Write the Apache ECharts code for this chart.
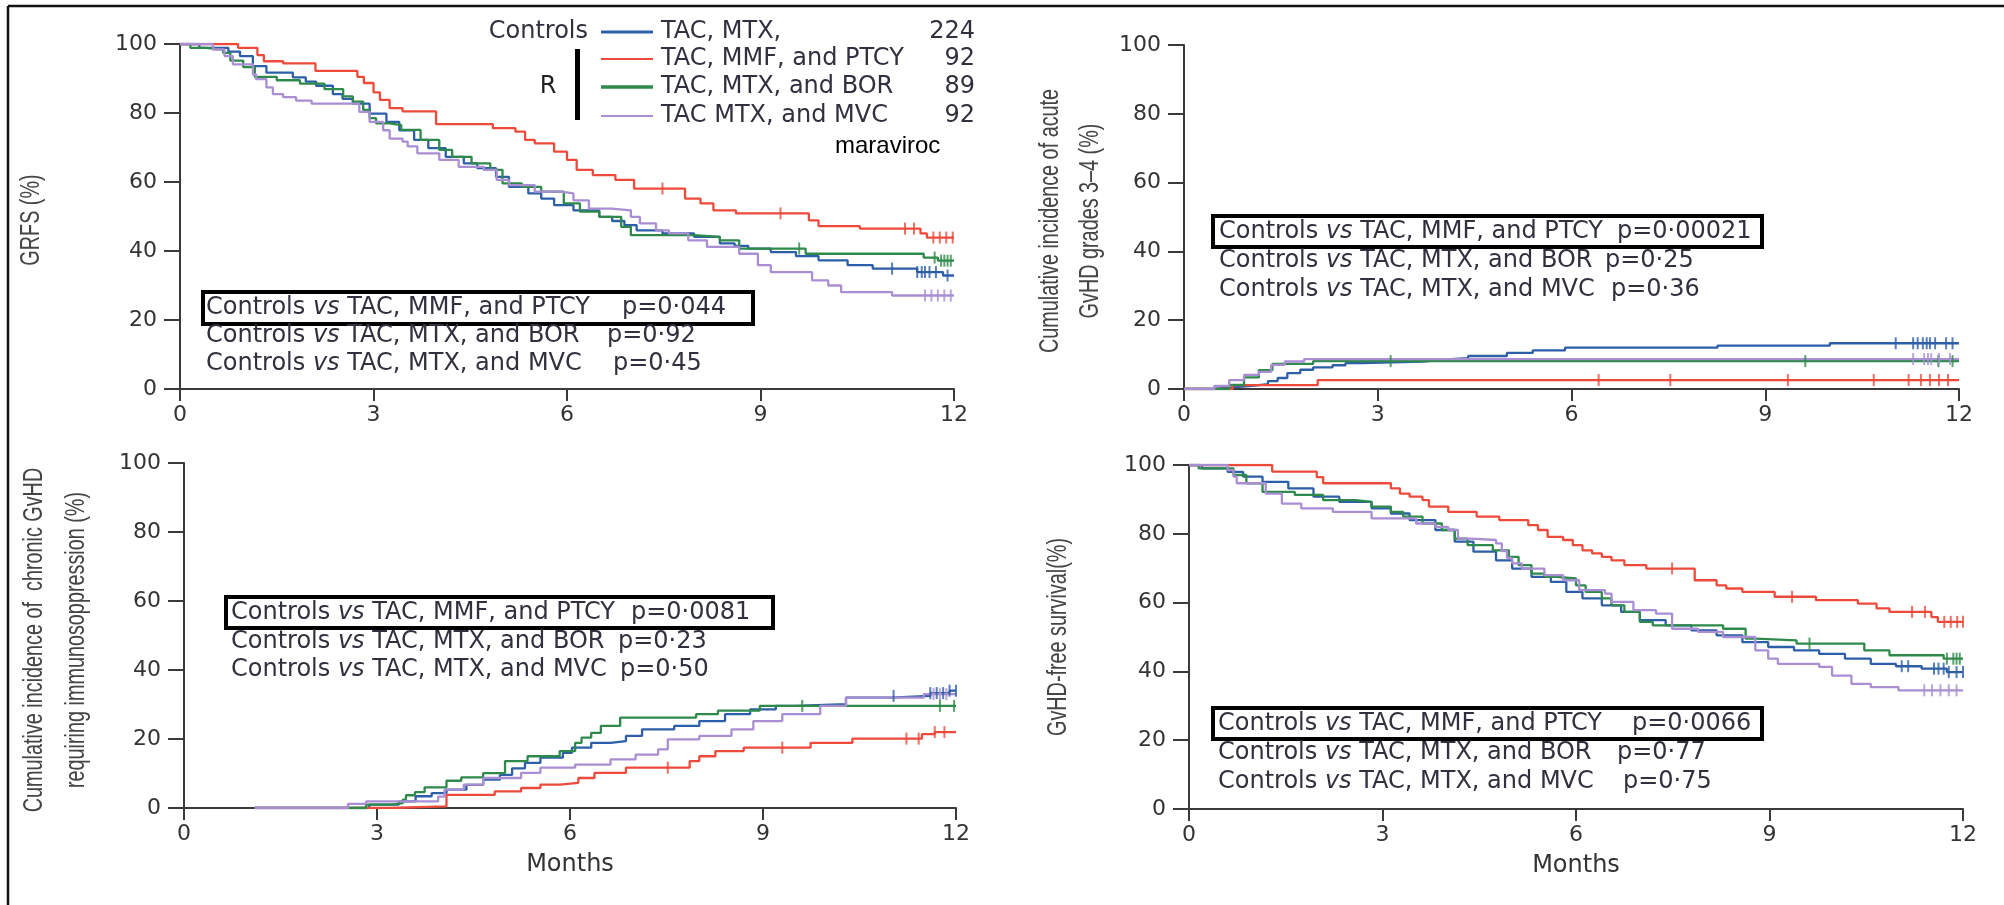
<!DOCTYPE html>
<html>
<head>
<meta charset="utf-8">
<script src="https://cdn.jsdelivr.net/npm/echarts@6/dist/echarts.min.js"></script>
<style>
  html, body { margin: 0; padding: 0; background: #ffffff; }
  #chart { width: 2004px; height: 905px; }
</style>
</head>
<body>
<div id="chart"></div>
<script>
// ---- Axis ticks ----
const monthTicks = [0, 3, 6, 9, 12];
const percentTicks = [0, 20, 40, 60, 80, 100];

// ---- Groups ----
const groupNames = ['TAC, MTX,', 'TAC, MMF, and PTCY', 'TAC, MTX, and BOR', 'TAC MTX, and MVC'];
const groupCounts = ['224', '92', '89', '92'];

// ---- GRFS (%) : [months, value] step points ----
const grfsControls = [[0,100],[0.3,98.9],[0.75,97.8],[0.93,96.5],[1.13,93.6],[1.34,91.7],[1.75,90.3],[1.95,89.1],[2.11,87.9],[2.37,85.5],[2.52,84.1],[2.68,82.7],[2.94,79.8],[3.2,77.4],[3.4,75],[3.63,72.2],[3.85,69.8],[4.12,67.3],[4.4,65.4],[4.61,64],[4.9,61.5],[5.1,58.6],[5.4,56.7],[5.6,55.2],[5.8,53.3],[6.1,51.8],[6.5,49.9],[6.7,48.7],[6.89,47.5],[7.08,46],[7.48,45.1],[7.97,44.1],[8.37,42.2],[8.6,41.5],[8.81,40.7],[9.16,39.7],[9.55,38.5],[9.9,37.3],[10.35,35.9],[10.74,34.9],[11.43,33.9],[11.83,32.9],[12,32.9]];
const grfsPtcy = [[0,100],[0.9,98.9],[1.2,96.8],[1.3,95],[1.6,94.4],[2.1,92.2],[2.75,90.5],[2.85,88.7],[3.0,86],[3.1,83.8],[3.25,81.4],[3.45,80.5],[3.97,76.8],[4.85,75.6],[5.2,74.6],[5.35,72.2],[5.5,71.2],[5.8,68.8],[6.0,66.4],[6.15,63.5],[6.4,62],[6.75,60.6],[7.04,58.1],[7.83,55.2],[8.07,53.8],[8.27,51.8],[8.62,50.9],[9.75,48.9],[9.9,47.2],[10.54,46.5],[11.48,45.1],[11.58,43.9],[12,43.9]];
const grfsBor = [[0,100],[0.16,98.9],[0.4,98.4],[0.67,97.4],[0.78,95.2],[0.98,93.3],[1.16,90.5],[1.5,89.5],[1.86,88.5],[2.24,86.9],[2.53,84.8],[2.68,83.3],[2.84,80.9],[2.94,78.5],[3.04,77],[3.25,76.5],[3.43,75.1],[3.73,72.2],[4.02,69.3],[4.22,67.3],[4.52,65.4],[4.81,63.5],[5.0,59.6],[5.3,58.6],[5.6,57.2],[5.95,53.8],[6.2,51.4],[6.5,49.9],[6.84,47],[6.99,44.6],[7.97,44.1],[8.37,43.1],[8.67,40.7],[9.7,39.2],[11.53,38.1],[11.75,37.2],[12,37.2]];
const grfsMvc = [[0,100],[0.51,98.4],[0.69,96.5],[0.82,94.1],[1.13,91.2],[1.18,89.8],[1.34,87.4],[1.44,85.5],[1.6,84.6],[1.8,83.6],[2.04,82.7],[2.78,80.3],[2.94,77.4],[3.15,75],[3.25,72.6],[3.45,71.7],[3.53,70.3],[3.68,68.3],[4.02,66.4],[4.32,64.4],[4.71,63.5],[4.91,60.6],[5.1,59.1],[5.5,57.2],[5.9,56.7],[6.1,54.7],[6.34,52.3],[6.69,51.8],[6.99,49.9],[7.13,48],[7.38,46],[7.58,45.1],[7.88,43.1],[8.17,41.2],[8.67,39.2],[8.96,35.9],[9.16,33.9],[9.8,31.5],[10.05,30],[10.25,28.1],[11.04,27.1],[12,27.1]];
const grfsControlsCensor = [11.04, 11.43, 11.5, 11.55, 11.62, 11.72, 11.9];
const grfsPtcyCensor = [7.48, 9.31, 11.24, 11.38, 11.68, 11.78, 11.88, 11.98];
const grfsBorCensor = [9.6, 11.7, 11.8, 11.85, 11.9, 11.95];
const grfsMvcCensor = [11.55, 11.65, 11.75, 11.85, 11.95];
const grfsPValues = ['p=0·044', 'p=0·92', 'p=0·45'];

// ---- Acute GvHD grades 3-4, cumulative incidence (%) ----
const agvhdControls = [[0,0],[0.45,0.5],[0.75,0.9],[1.05,1.4],[1.3,2.3],[1.45,3.2],[1.6,4.6],[1.8,5.6],[2.0,6.3],[2.3,6.9],[2.5,7.5],[2.75,8.0],[3.7,8.5],[4.0,9.0],[4.4,9.6],[5.0,10.5],[5.4,11.2],[5.9,12.0],[8.26,12.6],[10.0,13.3],[12,13.3]];
const agvhdPtcy = [[0,0],[0.75,1.1],[2.07,2.6],[12,2.6]];
const agvhdBor = [[0,0],[0.7,1.2],[0.93,3.4],[1.16,5.5],[1.37,7.3],[2.0,8.1],[12,8.1]];
const agvhdMvc = [[0,0],[0.47,0.9],[0.7,2.6],[0.93,4.1],[1.16,5.0],[1.35,7.0],[1.56,8.0],[1.86,8.7],[12,8.7]];
const agvhdControlsCensor = [11.02, 11.29, 11.36, 11.44, 11.5, 11.55, 11.63, 11.8, 11.9];
const agvhdPtcyCensor = [6.42, 7.53, 9.35, 10.68, 11.22, 11.41, 11.55, 11.69, 11.83];
const agvhdBorCensor = [3.2, 9.62, 11.68, 11.9];
const agvhdMvcCensor = [11.29, 11.46, 11.52, 11.57, 11.69, 11.86];
const agvhdPValues = ['p=0·00021', 'p=0·25', 'p=0·36'];

// ---- Chronic GvHD requiring immunosuppression, cumulative incidence (%) ----
const cgvhdControls = [[1.1,0],[2.88,1.0],[3.34,1.9],[3.6,3.4],[3.85,4.3],[4.08,5.3],[4.39,6.7],[4.65,8.2],[4.91,9.6],[5.1,11.5],[5.3,13.1],[5.54,14.6],[5.89,16],[6.03,17.5],[6.33,18.9],[6.63,19.4],[6.87,20.9],[7.12,22.8],[7.62,23.8],[8.01,25.2],[8.41,27.2],[8.8,28.6],[9.2,29.6],[9.5,30.1],[10.29,32],[10.98,32.5],[11.6,33.3],[11.9,34],[12,34]];
const cgvhdPtcy = [[1.1,0],[3.19,0.5],[4.08,3.8],[4.83,4.8],[5.24,5.8],[5.54,6.8],[5.84,7.3],[6.13,8.7],[6.38,10.2],[6.87,11.7],[7.86,13.6],[8.01,15],[8.26,16.5],[8.7,17.5],[9.74,18.9],[10.39,20.1],[11.47,21.4],[11.67,22],[12,22]];
const cgvhdBor = [[1.1,0],[2.83,1.0],[3.22,1.4],[3.4,2.4],[3.45,3.7],[3.59,4.6],[3.74,6.0],[4.08,7.9],[4.31,8.9],[4.65,10.1],[4.99,13.6],[5.34,15],[5.84,16.5],[6.08,18.9],[6.18,20.4],[6.33,21.8],[6.48,23.8],[6.78,26.2],[7.96,27.2],[8.3,28.2],[8.95,29.6],[12,29.6]];
const cgvhdMvc = [[1.1,0],[2.55,1.2],[2.83,1.9],[3.95,3.3],[4.05,5.3],[4.35,6.8],[4.65,8.7],[5.24,10.2],[5.54,11.7],[6.08,12.6],[6.63,14.1],[7.02,15.5],[7.37,17],[7.52,19.9],[8.01,20.9],[8.51,22.8],[8.85,25.2],[9.3,27.2],[9.89,29.6],[10.29,32],[11.5,33],[12,33]];
const cgvhdControlsCensor = [11.03, 11.6, 11.7, 11.8, 11.9, 12.0];
const cgvhdPtcyCensor = [7.52, 9.3, 11.23, 11.42, 11.67, 11.82];
const cgvhdBorCensor = [9.61, 11.75, 11.97];
const cgvhdMvcCensor = [11.65, 11.75, 11.85];
const cgvhdPValues = ['p=0·0081', 'p=0·23', 'p=0·50'];

// ---- GvHD-free survival (%) ----
const gfsControls = [[0,100],[0.2,99],[0.6,98],[0.84,96.6],[1.14,95.1],[1.54,93.2],[1.93,90.8],[2.33,89.3],[2.83,87.4],[3.13,85.9],[3.42,84],[3.82,81.1],[4.12,77.7],[4.41,74.8],[4.76,72.3],[5.01,69.9],[5.31,67.5],[5.61,66],[5.85,63.1],[6.1,61.2],[6.4,59.2],[6.7,57.3],[6.99,54.9],[7.39,53.4],[7.79,51.9],[8.18,50.5],[8.58,48.5],[8.98,47.1],[9.38,46.1],[9.77,45.1],[10.17,43.7],[10.57,42.2],[10.96,41.5],[11.36,40.8],[11.75,39.8],[12,39.8]];
const gfsPtcy = [[0,100],[1.29,98.1],[1.98,96.5],[2.08,94.7],[3.13,93.2],[3.27,91.7],[3.42,90.8],[3.62,89.8],[3.72,87.9],[4.02,86.4],[4.46,85],[4.81,84],[5.26,82.5],[5.41,81.1],[5.56,79.1],[5.8,78.2],[5.95,76.7],[6.1,75.2],[6.25,74.3],[6.4,73.3],[6.55,72.3],[6.75,70.9],[7.09,69.9],[7.84,66.5],[8.18,65],[8.33,64.1],[8.58,63.1],[9.08,61.7],[9.72,60.7],[10.37,59.7],[10.66,58.3],[10.86,57.3],[11.51,55.8],[11.61,54.4],[12,54.4]];
const gfsBor = [[0,100],[0.15,99],[0.69,97.1],[0.89,94.7],[1.14,92.2],[1.64,91.3],[2.08,89.8],[2.58,89.3],[2.83,87.9],[3.13,86.4],[3.32,85],[3.62,83],[3.92,81.1],[4.12,78.6],[4.32,76.7],[4.71,75.2],[4.96,73.3],[5.11,70.9],[5.31,68.4],[5.51,67.5],[5.7,67],[6.0,65],[6.15,63.1],[6.4,61.2],[6.55,59.2],[6.75,57.3],[6.99,54.4],[7.19,53.4],[8.28,52.4],[8.63,49.5],[8.78,49],[9.42,48.1],[10.47,46.1],[10.86,44.7],[11.7,43.7],[12,43.7]];
const gfsMvc = [[0,100],[0.6,98.5],[0.69,96.6],[0.74,94.7],[1.19,91.7],[1.44,88.8],[1.74,87.4],[2.23,86.4],[2.83,84.5],[3.52,83],[3.82,82],[4.02,81.1],[4.17,78.6],[4.37,78.2],[4.76,77.2],[4.85,75],[4.93,73],[5.01,71.4],[5.16,69.9],[5.51,68],[5.8,66.5],[6.05,63.6],[6.45,62.6],[6.55,60.2],[6.89,57.8],[7.24,56.8],[7.49,52.4],[7.89,51.5],[8.28,50],[8.78,46.1],[8.98,43.7],[9.13,42.2],[9.77,41.3],[9.97,38.8],[10.27,36.4],[10.57,35.4],[11.0,34.5],[12,34.5]];
const gfsControlsCensor = [11.05, 11.15, 11.55, 11.62, 11.7, 11.78, 11.9, 12.0];
const gfsPtcyCensor = [7.49, 9.35, 11.21, 11.41, 11.71, 11.81, 11.91, 12.0];
const gfsBorCensor = [9.62, 11.75, 11.85, 11.9, 11.95];
const gfsMvcCensor = [11.4, 11.52, 11.65, 11.78, 11.9];
const gfsPValues = ['p=0·0066', 'p=0·77', 'p=0·75'];

// ---- Comparison captions ----
const comparisonLabels = [
  'Controls {i|vs} TAC, MMF, and PTCY',
  'Controls {i|vs} TAC, MTX, and BOR',
  'Controls {i|vs} TAC, MTX, and MVC'
];

// ---- Styling ----
const groupColors = ['#2d5ea8', '#ee4a3b', '#2e8a4a', '#a98ed3'];
const TEXT = '#30303e';
const AXIS = '#3a3a3a';
const WIDE_FONT = '"DejaVu Sans", Verdana, sans-serif';
const TITLE_FONT = '"Liberation Sans", Arial, sans-serif';

// Panel layout (grid boxes, axis titles, caption placement)
const panels = [
  { grid: { left: 180, top: 44, width: 774, height: 345 },
    title: 'GRFS (%)', titlePos: [31, 220], titleLineHeight: 30,
    curves: [grfsControls, grfsPtcy, grfsBor, grfsMvc],
    censors: [grfsControlsCensor, grfsPtcyCensor, grfsBorCensor, grfsMvcCensor],
    pValues: grfsPValues, months: false,
    box: [203, 292, 550, 32], textX: 206, rows: [308, 336, 364], pX: [622, 607, 613] },
  { grid: { left: 1184, top: 45, width: 775, height: 344 },
    title: 'Cumulative incidence of acute\nGvHD grades 3–4 (%)', titlePos: [1070, 221], titleLineHeight: 40,
    curves: [agvhdControls, agvhdPtcy, agvhdBor, agvhdMvc],
    censors: [agvhdControlsCensor, agvhdPtcyCensor, agvhdBorCensor, agvhdMvcCensor],
    pValues: agvhdPValues, months: false,
    box: [1213, 216, 549, 31], textX: 1219, rows: [232, 261, 290], pX: [1617, 1605, 1611] },
  { grid: { left: 184, top: 463, width: 772, height: 345 },
    title: 'Cumulative incidence of  chronic GvHD\nrequiring immunosoppression (%)', titlePos: [55, 640], titleLineHeight: 42,
    curves: [cgvhdControls, cgvhdPtcy, cgvhdBor, cgvhdMvc],
    censors: [cgvhdControlsCensor, cgvhdPtcyCensor, cgvhdBorCensor, cgvhdMvcCensor],
    pValues: cgvhdPValues, months: true,
    box: [226, 597, 547, 31], textX: 231, rows: [613, 642, 670], pX: [631, 618, 620] },
  { grid: { left: 1189, top: 465, width: 774, height: 344 },
    title: 'GvHD-free survival(%)', titlePos: [1058, 637], titleLineHeight: 30,
    curves: [gfsControls, gfsPtcy, gfsBor, gfsMvc],
    censors: [gfsControlsCensor, gfsPtcyCensor, gfsBorCensor, gfsMvcCensor],
    pValues: gfsPValues, months: true,
    box: [1213, 708, 549, 31], textX: 1218, rows: [724, 753, 782], pX: [1632, 1617, 1623] }
];

// Value of a step curve at time t (last step at or before t)
function valueAt(curve, t) {
  let v = curve[0][1];
  for (const [x, y] of curve) { if (x <= t) v = y; else break; }
  return v;
}

const grids = [], xAxes = [], yAxes = [], series = [], graphics = [];

panels.forEach((p, i) => {
  grids.push(Object.assign({ containLabel: false, outerBoundsMode: 'none' }, p.grid));
  xAxes.push({
    type: 'value', gridIndex: i,
    min: monthTicks[0], max: monthTicks[monthTicks.length - 1], interval: monthTicks[1] - monthTicks[0],
    axisLine: { show: true, onZero: false, lineStyle: { color: AXIS, width: 2 } },
    axisTick: { show: true, inside: false, length: 12, lineStyle: { color: AXIS, width: 2 } },
    axisLabel: { show: true, margin: 15, fontSize: 22, fontFamily: WIDE_FONT, color: '#333' },
    splitLine: { show: false },
    name: p.months ? 'Months' : '', nameLocation: 'middle', nameGap: 45,
    nameTextStyle: { fontSize: 24, fontFamily: WIDE_FONT, color: '#333' }
  });
  yAxes.push({
    type: 'value', gridIndex: i,
    min: percentTicks[0], max: percentTicks[percentTicks.length - 1], interval: percentTicks[1] - percentTicks[0],
    axisLine: { show: true, onZero: false, lineStyle: { color: AXIS, width: 2 } },
    axisTick: { show: true, inside: false, length: 16, lineStyle: { color: AXIS, width: 2 } },
    axisLabel: { show: true, margin: 23, fontSize: 22, fontFamily: WIDE_FONT, color: '#333' },
    splitLine: { show: false }
  });

  // Vertical axis title, set in a condensed cut of the text
  graphics.push({
    type: 'text', z: 11, x: p.titlePos[0], y: p.titlePos[1], rotation: Math.PI / 2, scaleX: 0.72,
    style: {
      text: p.title, x: 0, y: 0, fill: '#454545', fontSize: 27.5, fontFamily: TITLE_FONT,
      lineHeight: p.titleLineHeight, textAlign: 'center', textVerticalAlign: 'middle'
    }
  });

  p.curves.forEach((curve, g) => {
    series.push({
      type: 'line', name: groupNames[g], xAxisIndex: i, yAxisIndex: i,
      step: 'end', data: curve, showSymbol: false, silent: true, animation: false,
      lineStyle: { color: groupColors[g], width: 2.3 }, z: 3
    });
    series.push({
      type: 'scatter', name: groupNames[g], xAxisIndex: i, yAxisIndex: i,
      data: p.censors[g].map(t => [t, valueAt(curve, t)]),
      symbol: 'rect', symbolSize: [2, 12], silent: true, animation: false,
      itemStyle: { color: groupColors[g] }, z: 4
    });
  });

  // Comparison captions with highlighted first row
  graphics.push({
    type: 'rect', shape: { x: p.box[0], y: p.box[1], width: p.box[2], height: p.box[3] },
    style: { fill: 'none', stroke: '#000', lineWidth: 4 }, z: 10
  });
  comparisonLabels.forEach((label, r) => {
    graphics.push({
      type: 'text', z: 11,
      style: {
        text: label, x: p.textX, y: p.rows[r], fill: TEXT,
        fontSize: 24, fontFamily: WIDE_FONT, textAlign: 'left', textVerticalAlign: 'middle',
        rich: { i: { fontStyle: 'italic', fontSize: 24, fontFamily: WIDE_FONT, fill: TEXT } }
      }
    });
    graphics.push({
      type: 'text', z: 11,
      style: {
        text: p.pValues[r], x: p.pX[r], y: p.rows[r], fill: TEXT,
        fontSize: 24, fontFamily: WIDE_FONT, textAlign: 'left', textVerticalAlign: 'middle'
      }
    });
  });
});

// Group key in the first panel
const keyRows = [32, 59, 87, 116];
const keyLineWidths = [3, 2, 3.5, 2];
graphics.push({ type: 'text', z: 11, style: { text: 'Controls', x: 588, y: keyRows[0], fill: TEXT,
  fontSize: 24, fontFamily: WIDE_FONT, textAlign: 'right', textVerticalAlign: 'middle' } });
graphics.push({ type: 'text', z: 11, style: { text: 'R', x: 548, y: 87, fill: '#222',
  fontSize: 24, fontFamily: WIDE_FONT, textAlign: 'center', textVerticalAlign: 'middle' } });
graphics.push({ type: 'rect', z: 11, shape: { x: 575, y: 49, width: 5, height: 71 }, style: { fill: '#000' } });
groupNames.forEach((name, g) => {
  graphics.push({ type: 'line', z: 11, shape: { x1: 601, y1: keyRows[g], x2: 653, y2: keyRows[g] },
    style: { stroke: groupColors[g], lineWidth: keyLineWidths[g] } });
  graphics.push({ type: 'text', z: 11, style: { text: name, x: 661, y: keyRows[g], fill: TEXT,
    fontSize: 24, fontFamily: WIDE_FONT, textAlign: 'left', textVerticalAlign: 'middle' } });
  graphics.push({ type: 'text', z: 11, style: { text: groupCounts[g], x: 975, y: keyRows[g], fill: TEXT,
    fontSize: 24, fontFamily: WIDE_FONT, textAlign: 'right', textVerticalAlign: 'middle' } });
});
graphics.push({ type: 'text', z: 11, style: { text: 'maraviroc', x: 835, y: 146, fill: '#000',
  fontSize: 24, fontFamily: TITLE_FONT, textAlign: 'left', textVerticalAlign: 'middle' } });

// Frame lines along the top and left edges
graphics.push({ type: 'line', z: 12, shape: { x1: 8, y1: 6, x2: 2004, y2: 6 }, style: { stroke: '#111', lineWidth: 2.5 } });
graphics.push({ type: 'line', z: 12, shape: { x1: 8, y1: 6, x2: 8, y2: 905 }, style: { stroke: '#111', lineWidth: 2.5 } });

const chart = echarts.init(document.getElementById('chart'), null, { renderer: 'canvas' });
chart.setOption({
  backgroundColor: '#ffffff',
  animation: false,
  grid: grids,
  xAxis: xAxes,
  yAxis: yAxes,
  series: series,
  graphic: graphics
});
</script>
</body>
</html>
